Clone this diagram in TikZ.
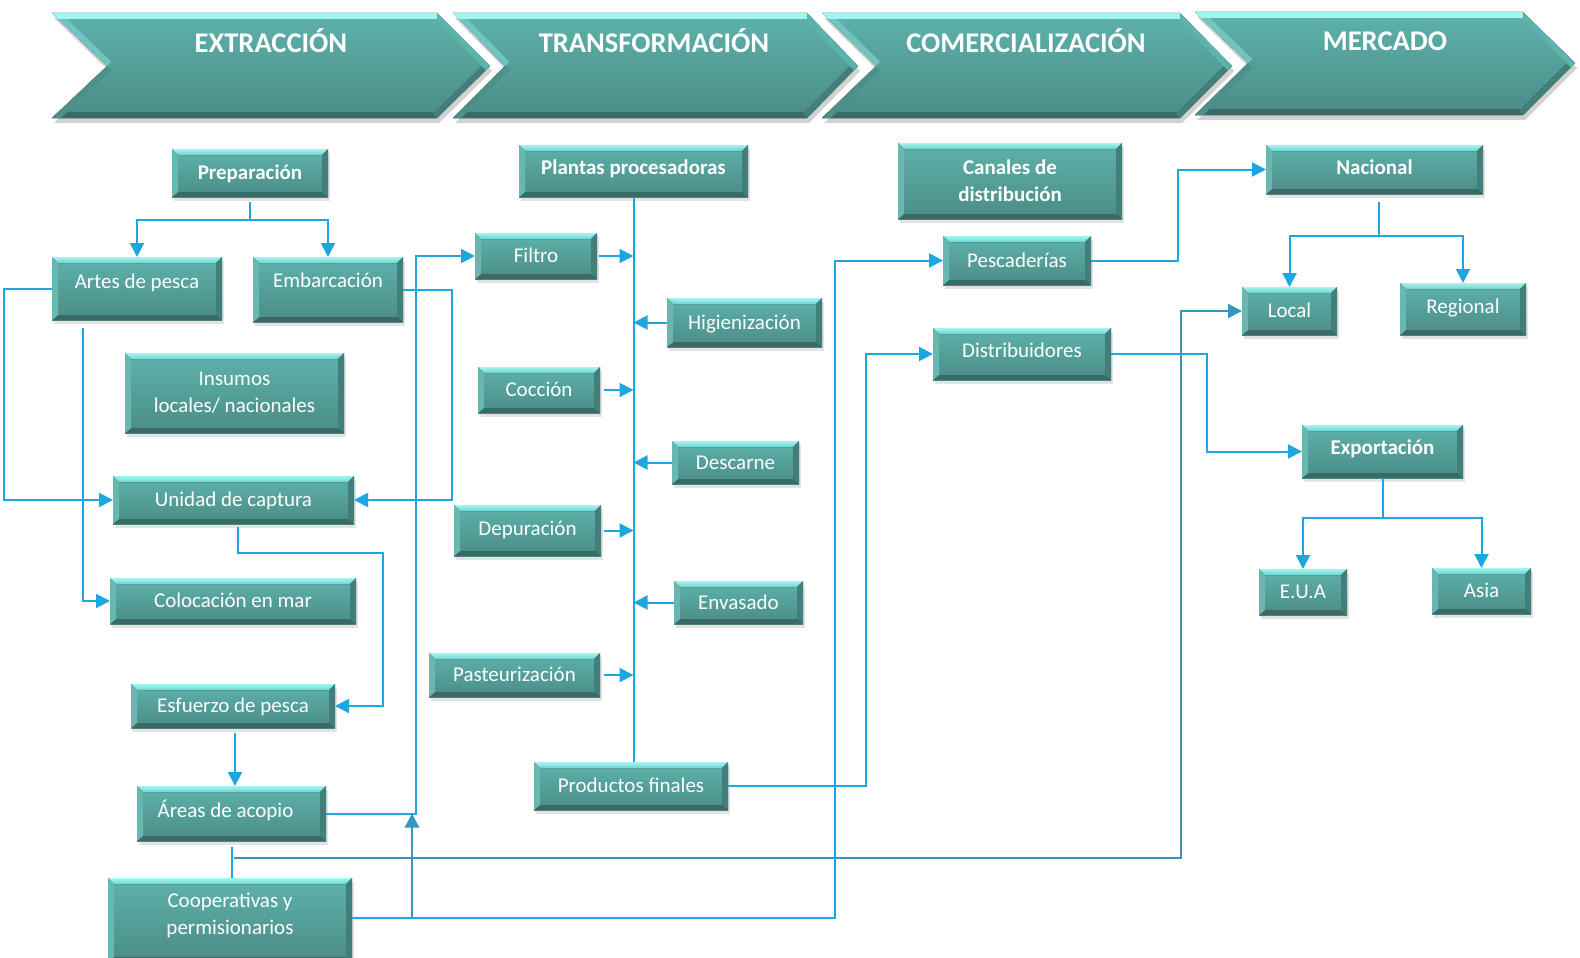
\documentclass[tikz,border=0pt]{standalone}
\usepackage{fontspec}
\setmainfont{Carlito}
\usetikzlibrary{arrows.meta,shadows}
\definecolor{bodytop}{HTML}{5DB3AC}
\definecolor{bodybot}{HTML}{4C8B86}
\definecolor{bevtop}{HTML}{A0F7F0}
\definecolor{bevtop2}{HTML}{72D2CA}
\definecolor{bevleft}{HTML}{66B8B1}
\definecolor{bevright}{HTML}{427F7A}
\definecolor{bevbot}{HTML}{3B6A66}
\definecolor{lnblue}{HTML}{1DA7E1}
\definecolor{lndark}{HTML}{3696BF}
\tikzset{
  boxbase/.style={inner sep=0pt, outer sep=0pt, top color=bodytop, bottom color=bodybot,
    text=white, font=\fontsize{21}{27}\selectfont,
    drop shadow={shadow xshift=2pt, shadow yshift=-4pt, opacity=.18, fill=black!60}},
  box/.style={boxbase, text height=16pt, text depth=3pt},
  mbox/.style={boxbase, align=center},
  bf/.style={font=\fontsize{21}{27}\selectfont\bfseries},
  title/.style={text=white, font=\fontsize{28.5}{34}\selectfont\bfseries, inner sep=0pt,
    text height=18.4pt, text depth=0pt},
  bevT/.style={top color=bevtop, bottom color=bevtop2},
  bevR/.style={fill=bevright},
  bevB/.style={fill=bevbot},
  bevL/.style={fill=bevleft},
  ln/.style={draw=lnblue, line width=2pt},
  arr/.style={ln, -{Triangle[length=14pt,width=14pt]}},
  arrd/.style={draw=lndark, line width=2.2pt, -{Triangle[length=14pt,width=14pt]}},
}
\newcommand\bevel[1]{%
  \fill[bevT] (#1.north west) -- (#1.north east) -- ([shift={(-6pt,-6pt)}]#1.north east) -- ([shift={(6pt,-6pt)}]#1.north west) -- cycle;
  \fill[bevR] (#1.north east) -- (#1.south east) -- ([shift={(-6pt,5pt)}]#1.south east) -- ([shift={(-6pt,-6pt)}]#1.north east) -- cycle;
  \fill[bevB] (#1.south east) -- (#1.south west) -- ([shift={(6pt,5pt)}]#1.south west) -- ([shift={(-6pt,5pt)}]#1.south east) -- cycle;
  \fill[bevL] (#1.south west) -- (#1.north west) -- ([shift={(6pt,-6pt)}]#1.north west) -- ([shift={(6pt,5pt)}]#1.south west) -- cycle;
}
\newcommand\bx[7]{%
  \node[#6, minimum width={(#4)-(#2)}, minimum height={(#5)-(#3)}] (#1) at ({((#2)+(#4))/2},{((#3)+(#5))/2}) {#7};
  \bevel{#1}%
}
% x1 xr xt xn y1 ym y2
\newcommand\chev[7]{%
  \fill[black,opacity=.18] ({#1+2},{#5+5}) -- ({#2+2},{#5+5}) -- ({#3+2},{#6+5}) -- ({#2+2},{#7+5}) -- ({#1+2},{#7+5}) -- ({#4+2},{#6+5}) -- cycle;
  \fill[top color=bodytop,bottom color=bodybot] (#1,#5) -- (#2,#5) -- (#3,#6) -- (#2,#7) -- (#1,#7) -- (#4,#6) -- cycle;
  \begin{scope}
    \clip (#1,#5) -- (#2,#5) -- (#3,#6) -- (#2,#7) -- (#1,#7) -- (#4,#6) -- cycle;
    \draw[line width=12pt,color=bevbot] (#2,#7) -- (#1,#7);
    \draw[line width=12pt,color=bevright] (#3,#6) -- (#2,#7);
    \draw[line width=12pt,color=bevright!70!bevleft] (#1,#7) -- (#4,#6);
    \draw[line width=12pt,color=bevleft!80!bevtop] (#4,#6) -- (#1,#5);
    \draw[line width=12pt,color=bodytop] (#2,#5) -- (#3,#6);
    \draw[line width=12pt,color=bevtop] (#1,#5) -- (#2,#5);
  \end{scope}
}
\begin{document}
\begin{tikzpicture}[x=1pt,y=-1pt]
\useasboundingbox[fill=white] (0,0) rectangle (1580,958);
% headers
\chev{52}{437}{490}{107}{13}{66}{118}
\chev{453}{807}{858}{505}{13}{66}{118}
\chev{822}{1180}{1232}{876}{13}{66}{118}
\chev{1195}{1523}{1575}{1248}{12}{63}{115}
\node[title] (t1) at (271,43) {EXTRACCIÓN};
\node[title] (t2) at (654,43) {TRANSFORMACIÓN};
\node[title] (t3) at (1026,43) {COMERCIALIZACIÓN};
\node[title] (t4) at (1385,41) {MERCADO};
% extraccion
\bx{prep}{172}{149}{328}{197}{box,bf}{Preparación}
\bx{artes}{52}{257}{222}{320}{box}{\raisebox{7pt}{Artes de pesca}}
\bx{emb}{253}{257}{403}{322}{box}{\raisebox{9pt}{Embarcación}}
\bx{ins}{125}{353}{344}{433}{mbox}{Insumos\\locales/ nacionales}
\bx{unidad}{113}{476}{354}{524}{box}{Unidad de captura}
\bx{coloc}{110}{578}{356}{624}{box}{Colocación en mar}
\bx{esf}{131}{684}{335}{728}{box}{Esfuerzo de pesca}
\bx{areas}{137}{786}{326}{841}{box}{\raisebox{3pt}{Áreas de acopio\hspace{12pt}}}
\bx{coop}{108}{878}{352}{962}{mbox,text depth=13pt}{Cooperativas y\\permisionarios}
% transformacion
\bx{plantas}{519}{145}{748}{197}{box,bf}{\raisebox{3pt}{Plantas procesadoras}}
\bx{filtro}{475}{233}{597}{279}{box}{Filtro}
\bx{hig}{667}{298}{822}{347}{box}{Higienización}
\bx{cocc}{478}{367}{600}{413}{box}{Cocción}
\bx{desc}{672}{441}{799}{484}{box}{Descarne}
\bx{depu}{454}{505}{601}{556}{box}{\raisebox{2pt}{Depuración}}
\bx{env}{674}{581}{803}{624}{box}{Envasado}
\bx{past}{429}{653}{600}{697}{box}{Pasteurización}
\bx{prod}{534}{762}{728}{810}{box}{Productos finales}
% comercializacion
\bx{canal}{898}{143}{1122}{219}{mbox,bf}{Canales de\\distribución}
\bx{pesc}{943}{236}{1091}{285}{box}{Pescaderías}
\bx{dist}{933}{328}{1111}{380}{box}{\raisebox{3pt}{Distribuidores}}
% mercado
\bx{nac}{1266}{145}{1483}{194}{box,bf}{\raisebox{2pt}{Nacional}}
\bx{local}{1242}{287}{1337}{335}{box}{Local}
\bx{reg}{1400}{283}{1526}{335}{box}{\raisebox{2pt}{Regional}}
\bx{exp}{1302}{425}{1463}{478}{box,bf}{\raisebox{4pt}{Exportación}}
\bx{eua}{1259}{569}{1347}{615}{box}{E.U.A}
\bx{asia}{1432}{568}{1531}{614}{box}{Asia}
% connectors extraccion
\draw[arr] ([yshift=-5pt]prep.south) -- ++(0,18) -| (artes.north);
\draw[arr] ([yshift=-5pt]prep.south) -- ++(0,18) -| (emb.north);
\draw[arr] (artes.west) -- ++(-48,0) |- (unidad.west);
\draw[arr] ([shift={(-54pt,-8pt)}]artes.south) |- (coloc.west);
\draw[arr] (emb.east) -- ++(49,0) |- (unidad.east);
\draw[arr] ([shift={(4pt,-3pt)}]unidad.south) -- ++(0,26) -| ([xshift=48pt]esf.east) -- (esf.east);
\draw[arr] ([shift={(2pt,-5pt)}]esf.south) -- ([xshift=2pt]esf.south |- areas.north);
\draw[arr] (areas.east) -| ([xshift=-59pt]filtro.west) -- (filtro.west);
\draw[ln] ([yshift=-6pt]areas.south) -- (areas.south |- coop.north);
\draw[arrd] ([shift={(2pt,-17pt)}]areas.south) -| ([xshift=-61pt]local.west) -- (local.west);
\draw[arr] ([yshift=2pt]coop.east) -| ([xshift=-108pt]pesc.west) -- (pesc.west);
\draw[arrd] ([shift={(60pt,2pt)}]coop.east) -- ([xshift=60pt]coop.east |- areas.east);
% transformacion
\draw[ln] (plantas.south) -- (plantas.south |- prod.north);
\draw[arr] ([xshift=2pt]filtro.east) -- (filtro.east -| plantas.south);
\draw[arr] (hig.west) -- (hig.west -| plantas.south);
\draw[arr] ([xshift=4pt]cocc.east) -- (cocc.east -| plantas.south);
\draw[arr] (desc.west) -- (desc.west -| plantas.south);
\draw[arr] ([xshift=3pt]depu.east) -- (depu.east -| plantas.south);
\draw[arr] (env.west) -- (env.west -| plantas.south);
\draw[arr] ([xshift=4pt]past.east) -- (past.east -| plantas.south);
\draw[arr] (prod.east) -| ([xshift=-67pt]dist.west) -- (dist.west);
% comercializacion
\draw[arr] (pesc.east) -| ([xshift=-88pt]nac.west) -- (nac.west);
\draw[arr] (dist.east) -| ([xshift=-95pt]exp.west) -- (exp.west);
% mercado
\draw[arr] ([shift={(4pt,-8pt)}]nac.south) -- ++(0,34) -| (local.north);
\draw[arr] ([shift={(4pt,-8pt)}]nac.south) -- ++(0,34) -| (reg.north);
\draw[arr] (exp.south) -- ++(0,40) -| (eua.north);
\draw[arr] (exp.south) -- ++(0,40) -| (asia.north);
\end{tikzpicture}
\end{document}
